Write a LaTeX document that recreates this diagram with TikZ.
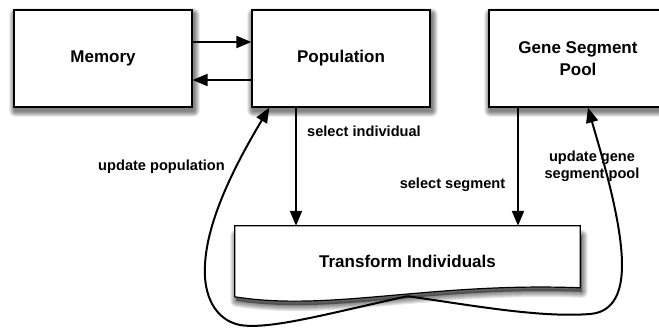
\documentclass[tikz,border=0pt]{standalone}
\usepackage{fontspec}
\setmainfont{Liberation Sans}
\usetikzlibrary{arrows.meta,calc}
\pgfdeclarelayer{canvas}
\pgfdeclarelayer{shadow}
\pgfdeclarelayer{background}
\pgfsetlayers{canvas,shadow,background,main}
% soft shadow under a rectangular node, built from stacked translucent fills
\newcommand\castshadow[1]{%
  \begin{pgfonlayer}{shadow}
    \foreach \r in {1,2,...,6}{%
      \fill[black, opacity=0.1, rounded corners=\r pt]
        ($(#1.north west)+(2-\r,5-\r)$) rectangle ($(#1.south east)+(1+\r,3+\r)$);
    }
  \end{pgfonlayer}}
\begin{document}
\begin{tikzpicture}[x=1pt,y=-1pt,
  box/.style={draw, line width=1.2pt, fill=white, minimum width=178pt, minimum height=97pt,
    font=\fontsize{17}{22}\selectfont\bfseries, align=center},
  lbl/.style={font=\fontsize{14.6}{17}\selectfont\bfseries, align=center, inner sep=0pt},
  flow/.style={line width=2pt, -{Triangle[length=15pt,width=12pt]}},
]
\clip (0,0) rectangle (659,327);
\begin{pgfonlayer}{canvas}
  \fill[white] (0,0) rectangle (659,327);
\end{pgfonlayer}

% process boxes
\node[box] (mem)  at (103,58.5) {Memory};
\node[box] (pop)  at (341,58.5) {Population};
\node[box] (gene) at (578,58.5) {Gene Segment\\Pool};
\castshadow{mem}
\castshadow{pop}
\castshadow{gene}

% document-shaped box with a wavy lower edge
\node[font=\fontsize{17}{22}\selectfont\bfseries, minimum width=345pt, minimum height=70pt, inner sep=0pt]
  (trans) at (407.5,261) {Transform Individuals};
\begin{pgfonlayer}{shadow}
  \foreach \r in {2,4,...,12}{%
    \draw[black, opacity=0.09, line width=\r pt, line join=round, fill]
      ($(trans.north west)+(1.5,10)$) -- ($(trans.north east)+(1.5,10)$) -- ($(trans.north east)+(1.5,66)$)
      .. controls (431.5,286) and (331.5,316) .. ($(trans.north west)+(1.5,75)$) -- cycle;
  }
\end{pgfonlayer}
\begin{pgfonlayer}{background}
  \draw[line width=1.2pt, fill=white]
    (trans.north west) -- (trans.north east) -- ($(trans.north east)+(0,62)$)
    .. controls (430,282) and (330,312) .. ($(trans.north west)+(0,71)$) -- cycle;
\end{pgfonlayer}

% memory exchange
\draw[flow] ([yshift=16.5pt]mem.east) -- ([yshift=16.5pt]pop.west);
\draw[flow] ([yshift=-21.5pt]pop.west) -- ([yshift=-21.5pt]mem.east);

% selection arrows
\draw[flow] ([xshift=-45pt]pop.south) -- ([xshift=-45pt]pop.south |- trans.north);
\draw[flow] ([xshift=-60pt]gene.south) -- ([xshift=-60pt]gene.south |- trans.north);

% update loops
\draw[flow] (trans.south) .. controls (330,313) and (270,330) .. (240,325)
  .. controls (215,320) and (203,295) .. (205,265)
  .. controls (207,220) and (235,165) .. ([xshift=18pt]pop.south west);
\draw[flow] (trans.south) .. controls (470,305) and (540,318) .. (590,314)
  .. controls (615,312) and (622,290) .. (622,265)
  .. controls (622,220) and (600,150) .. ([xshift=10pt]gene.south);

% labels
\node[lbl, anchor=west] (lsi) at (307,131) {select individual};
\node[lbl] (lss) at (452.5,185) {select segment};
\node[lbl] (lup) at (161.5,167) {update population};
\node[lbl] (lug) at (592,166.5) {update gene\\segment pool};
\end{tikzpicture}
\end{document}
